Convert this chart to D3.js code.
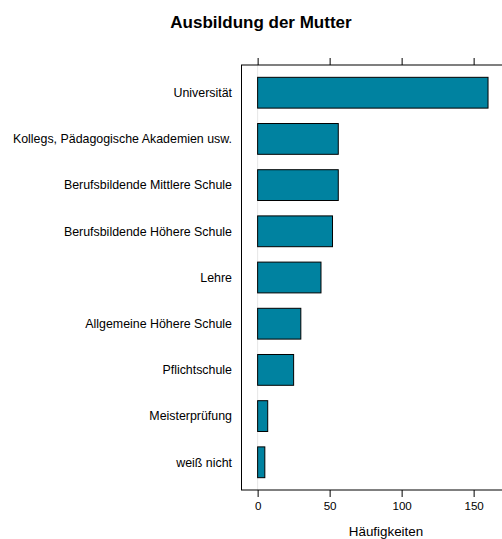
<!DOCTYPE html>
<html>
<head>
<meta charset="utf-8">
<script src="https://cdn.jsdelivr.net/npm/d3@7"></script>
<style>
  body { margin: 0; background: #fff; }
  svg { display: block; font-family: "Liberation Sans", Arial, sans-serif; }
</style>
</head>
<body>
<div id="chart"></div>
<script>
// categories top to bottom and their counts
const categories = [
  "Universität",
  "Kollegs, Pädagogische Akademien usw.",
  "Berufsbildende Mittlere Schule",
  "Berufsbildende Höhere Schule",
  "Lehre",
  "Allgemeine Höhere Schule",
  "Pflichtschule",
  "Meisterprüfung",
  "weiß nicht"
];
const counts = [160, 56, 56, 52, 44, 30, 25, 7, 5];
const xTicks = [0, 50, 100, 150];

const width = 502, height = 539;
const panel = { left: 241.5, top: 65, bottom: 490 };

const svg = d3.select("#chart").append("svg")
  .attr("width", width)
  .attr("height", height);

// lattice-style 7% padding on the x range
const xMax = d3.max(counts);
const pad = xMax * 0.07;
const x = d3.scaleLinear()
  .domain([-pad, xMax + pad])
  .range([panel.left, panel.left + (xMax + 2 * pad) * 1.44]);

// positions 1..n with 0.6 padding at both ends
const y = d3.scaleLinear()
  .domain([0.4, categories.length + 0.6])
  .range([panel.top, panel.bottom]);
const step = y(2) - y(1);
const barH = step * 2 / 3;

const data = categories.map((c, i) => ({ name: c, value: counts[i], pos: i + 1 }));

// reference line at zero
svg.append("line")
  .attr("x1", x(0)).attr("x2", x(0))
  .attr("y1", panel.top).attr("y2", panel.bottom)
  .attr("stroke", "#e6e6e6")
  .attr("stroke-width", 1);

// bars
svg.append("g")
  .selectAll("rect")
  .data(data)
  .join("rect")
  .attr("x", x(0))
  .attr("y", d => y(d.pos) - barH / 2)
  .attr("width", d => x(d.value) - x(0))
  .attr("height", barH)
  .attr("fill", "#0082a0")
  .attr("stroke", "#000")
  .attr("stroke-width", 1);

// panel border
svg.append("rect")
  .attr("x", panel.left)
  .attr("y", panel.top)
  .attr("width", x.range()[1] - panel.left)
  .attr("height", panel.bottom - panel.top)
  .attr("fill", "none")
  .attr("stroke", "#000")
  .attr("stroke-width", 1);

// ticks top and bottom, labels only at the bottom
const bottomAxis = d3.axisBottom(x).tickValues(xTicks).tickSize(7).tickPadding(5);
const gb = svg.append("g")
  .attr("transform", `translate(0,${panel.bottom})`)
  .call(bottomAxis);
gb.select(".domain").remove();
gb.selectAll("text").style("font-size", "11.6px").attr("fill", "#000")
  .attr("font-family", "Liberation Sans, Arial, sans-serif");
gb.selectAll("line").attr("stroke", "#000");

const topAxis = d3.axisTop(x).tickValues(xTicks).tickSize(7).tickFormat("");
const gt = svg.append("g")
  .attr("transform", `translate(0,${panel.top})`)
  .call(topAxis);
gt.select(".domain").remove();
gt.selectAll("line").attr("stroke", "#000");

// category labels
svg.append("g")
  .selectAll("text")
  .data(data)
  .join("text")
  .attr("x", 232)
  .attr("y", d => y(d.pos))
  .attr("dy", "0.35em")
  .attr("text-anchor", "end")
  .style("font-size", "12.4px")
  .text(d => d.name);

// title
svg.append("text")
  .attr("x", 261)
  .attr("y", 28)
  .attr("text-anchor", "middle")
  .style("font-size", "17px")
  .style("font-weight", "bold")
  .text("Ausbildung der Mutter");

// x label
svg.append("text")
  .attr("x", 386)
  .attr("y", 535.5)
  .attr("text-anchor", "middle")
  .style("font-size", "13.4px")
  .text("Häufigkeiten");
</script>
</body>
</html>
